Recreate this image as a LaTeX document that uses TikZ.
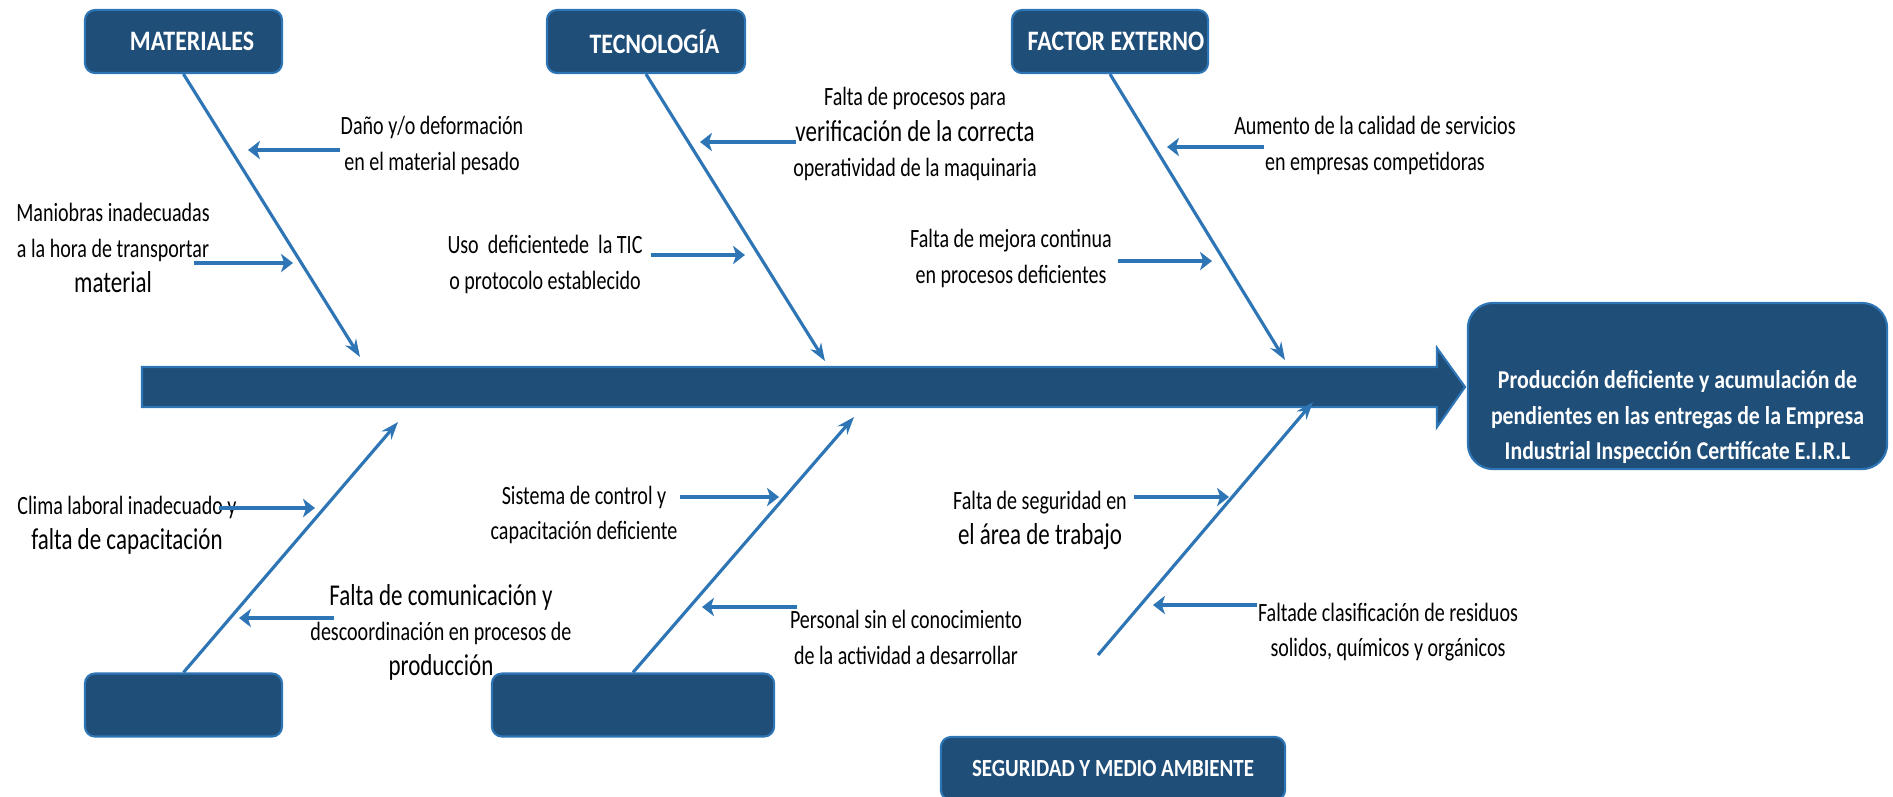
\documentclass[tikz,border=0pt]{standalone}
\usepackage{fontspec}
\setmainfont{Carlito}[FakeStretch=0.76]
\newfontfamily\headfont{Carlito}[FakeStretch=0.85]
\usetikzlibrary{arrows.meta,positioning,calc}
\definecolor{b1}{HTML}{1F4E79}
\definecolor{b2}{HTML}{2E75B6}
\newcommand{\smtxt}{\fontsize{7.5}{10}\selectfont}
\newcommand{\lgtxt}{\fontsize{8.6}{10}\selectfont}

\begin{document}
\begin{tikzpicture}
[x=0.01cm, y=-0.01cm,
cat/.style={draw=b2, line width=0.6pt, fill=b1, rounded corners=0.1cm, minimum height=0.63cm,
  inner xsep=0pt, text=white, font=\headfont\bfseries\fontsize{8}{10}\selectfont},
cause/.style={align=center, inner sep=0pt, font=\smtxt},
bone/.style={b2, line width=0.9pt, -{Stealth[length=5pt,width=3.6pt]}},
sub/.style={b2, line width=1.3pt, -{Stealth[length=3.4pt,width=5.2pt,inset=0.9pt]}}]
\useasboundingbox (0,0) rectangle (1893,796);
\clip (0,0) rectangle (1893,796);

%% categorias
\node[cat, minimum width=1.97cm] (mat) at (183.5,41.5) {\hspace*{0.17cm}MATERIALES};
\node[cat, minimum width=1.98cm] (tec) at (646,41.5) {\hspace*{0.17cm}TECNOLOGÍA};
\node[cat, minimum width=1.96cm] (fac) at (1110,41.5) {\hspace*{0.12cm}FACTOR EXTERNO};
\node[cat, minimum width=1.97cm] (bot1) at (183.5,705) {};
\node[cat, minimum width=2.82cm] (bot2) at (633,705) {};
\node[cat, minimum width=3.44cm, font=\headfont\bfseries\fontsize{7}{10}\selectfont] (seg) at (1113,768.5) {SEGURIDAD Y MEDIO AMBIENTE};

%% espina
\path[fill=b1, draw=b2, line width=0.6pt] (142,367) -- (1437,367) -- (1437,348) -- (1465,387)
  -- (1437,427) -- (1437,407) -- (142,407) -- cycle;

%% efecto
\node[draw=b2, line width=0.6pt, fill=b1, rounded corners=0.25cm, minimum width=4.19cm, minimum height=1.66cm] (efecto) at (1677.5,386) {};
\node[cause, text=white, font=\headfont\bfseries\fontsize{7.3}{10}\selectfont] (efTxt) at ([yshift=-0.31cm]efecto.center)
  {Producción deficiente y acumulación de\\pendientes en las entregas de la Empresa\\Industrial Inspección Certifícate E.I.R.L};

%% espinas
\coordinate (matEnd) at (360,357);
\coordinate (tecEnd) at (825,361);
\coordinate (facEnd) at (1285,360);
\coordinate (bot1End) at (398,422);
\coordinate (bot2End) at (854,417);
\coordinate (segStart) at (1098,655);
\coordinate (segEnd) at (1313,402);

\draw[bone] (mat.south) -- (matEnd);
\draw[bone] (tec.south) -- (tecEnd);
\draw[bone] (fac.south) -- (facEnd);
\draw[bone] (bot1.north) -- (bot1End);
\draw[bone] (bot2.north) -- (bot2End);
\draw[bone] (segStart) -- (segEnd);

%% causas
\node[cause] (dano) at (432,145.5) {Daño y/o deformación\\en el material pesado};
\node[cause] (maniob) at (113,248) {Maniobras inadecuadas\\a la hora de transportar\\{\lgtxt material}};
\node[cause] (uso) at (545,264.5) {Uso~ deficientede~ la TIC\\o protocolo establecido};
\node[cause] (proc) at (915,134) {Falta de procesos para\\{\lgtxt verificación de la correcta}\\operatividad de la maquinaria};
\node[cause] (aum) at (1375,145.5) {Aumento de la calidad de servicios\\en empresas competidoras};
\node[cause] (mej) at (1011,258.5) {Falta de mejora continua\\en procesos deficientes};
\node[cause] (clima) at (127,525.5) {Clima laboral inadecuado y\\{\lgtxt falta de capacitación}};
\node[cause] (comun) at (441,632.5) {{\lgtxt Falta de comunicación y}\\descoordinación en procesos de\\{\lgtxt producción}};
\node[cause] (sist) at (584,515) {Sistema de control y\\capacitación deficiente};
\node[cause] (pers) at (906,637.5) {Personal sin el conocimiento\\de la actividad a desarrollar};
\node[cause] (segu) at (1040,520.5) {Falta de seguridad en\\{\lgtxt el área de trabajo}};
\node[cause] (resid) at (1388,632.5) {Faltade clasificación de residuos\\solidos, químicos y orgánicos};

%% flechas de causas
\foreach \n/\x/\y in {dano/248/150, maniob/293/263, uso/745/255, proc/700/142,
  aum/1167/147, mej/1212/261, clima/315/508, comun/239/618,
  sist/779/497, pers/702/607, segu/1229/497, resid/1153/605}
  \coordinate (t-\n) at (\x,\y);

\foreach \n/\s/\dx in {dano/west/0, maniob/east/-16, uso/east/8, proc/west/3,
  aum/west/30, mej/east/5, clima/east/-18, comun/west/24,
  sist/east/2, pers/west/8, segu/east/6, resid/west/0}
  \draw[sub] ($(\n.\s |- t-\n)+(\dx,0)$) -- (t-\n);
\end{tikzpicture}
\end{document}
